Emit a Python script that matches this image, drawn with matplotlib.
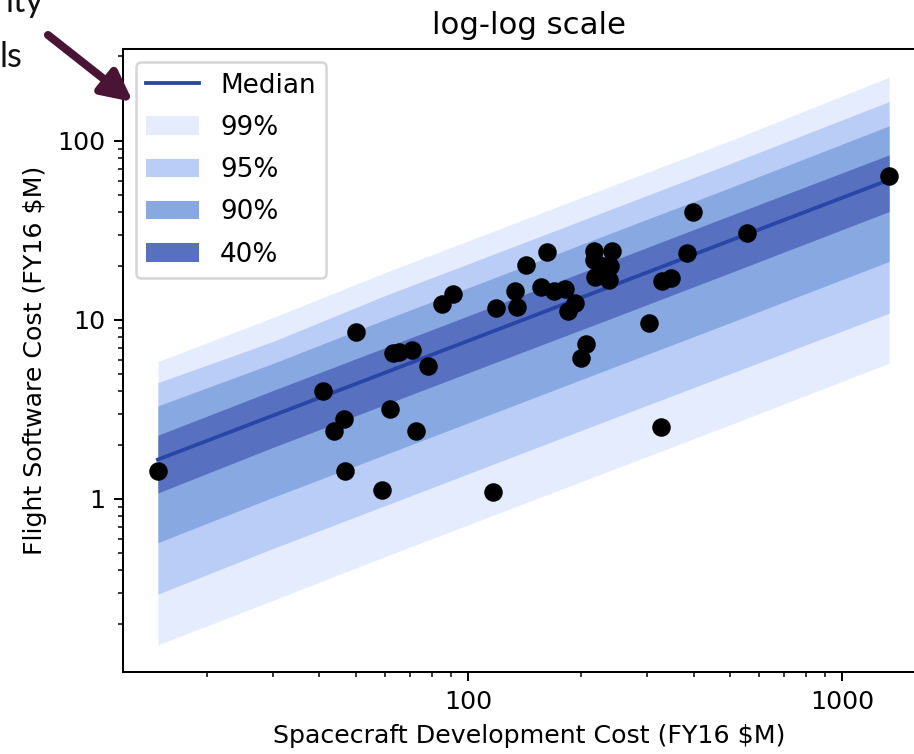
import numpy as np
import matplotlib
matplotlib.use("Agg")
import matplotlib.pyplot as plt
from matplotlib.ticker import FuncFormatter, NullFormatter
from matplotlib.patches import FancyArrowPatch

# data points (spacecraft dev cost vs flight software cost, FY16 $M)
dev_cost = [14.8, 41.0, 43.7, 46.4, 46.8, 50.0, 58.7, 61.7, 62.9, 65.3,
            70.6, 72.4, 77.9, 85.2, 91.0, 116.7, 118.8, 133.6, 134.9, 142.4,
            156.8, 162.0, 169.8, 181.7, 184.4, 193.2, 200.5, 206.0, 217.3, 217.3,
            218.2, 229.6, 239.3, 237.8, 241.7, 304.8, 326.9, 329.0, 348.3, 385.1,
            399.6, 556.3, 1333.0]
fsw_cost = [1.43, 4.00, 2.41, 2.79, 1.43, 8.57, 1.12, 3.20, 6.52, 6.65,
            6.80, 2.39, 5.53, 12.3, 14.0, 1.10, 11.6, 14.6, 11.8, 20.3,
            15.2, 24.1, 14.6, 14.8, 11.2, 12.4, 6.14, 7.32, 24.3, 21.6,
            17.3, 19.9, 19.9, 16.7, 24.3, 9.66, 2.52, 16.6, 17.2, 23.6,
            40.3, 30.6, 63.8]

# prediction bands
band_x = [14.8, 30, 60, 120, 250, 500, 1333]
median = [1.66, 2.92, 5.08, 8.85, 15.9, 27.7, 60.6]
hi_99 = [5.85, 10.3, 18.4, 32.0, 57.6, 100.1, 227.0]
lo_99 = [0.153, 0.271, 0.477, 0.830, 1.49, 2.59, 5.73]
hi_95 = [4.46, 7.57, 13.7, 23.8, 42.8, 74.5, 165.8]
lo_95 = [0.294, 0.528, 0.919, 1.60, 2.88, 5.00, 10.9]
hi_90 = [3.31, 5.71, 10.05, 17.5, 31.5, 54.7, 121.3]
lo_90 = [0.570, 1.02, 1.77, 3.08, 5.54, 9.63, 21.2]
hi_40 = [2.27, 4.03, 7.01, 12.2, 21.9, 38.2, 83.5]
lo_40 = [1.08, 1.94, 3.37, 5.86, 10.5, 18.3, 40.3]

fig = plt.figure(figsize=(914 / 182, 754 / 182), dpi=182)
ax = fig.add_axes([0.1342, 0.1088, 0.8897, 0.8263])

ax.fill_between(band_x, lo_99, hi_99, color="#e4ecfd", lw=0, label="99%")
ax.fill_between(band_x, lo_95, hi_95, color="#bacdf7", lw=0, label="95%")
ax.fill_between(band_x, lo_90, hi_90, color="#87a8e0", lw=0, label="90%")
ax.fill_between(band_x, lo_40, hi_40, color="#5870c0", lw=0, label="40%")
ax.plot(band_x, median, color="#2846a5", lw=1.5, label="Median")
ax.scatter(dev_cost, fsw_cost, s=40, color="black", zorder=5)

ax.set_xscale("log")
ax.set_yscale("log")
ax.set_xlim(11.91, 1778)
ax.set_ylim(0.108, 326.5)
fmt = FuncFormatter(lambda v, _: f"{v:g}")
ax.xaxis.set_major_formatter(fmt)
ax.yaxis.set_major_formatter(fmt)
ax.xaxis.set_minor_formatter(NullFormatter())
ax.yaxis.set_minor_formatter(NullFormatter())

ax.set_title("log-log scale", fontsize=12.2)
ax.set_xlabel("Spacecraft Development Cost (FY16 $M)")
ax.set_ylabel("Flight Software Cost (FY16 $M)")

h, l = ax.get_legend_handles_labels()
order = [4, 0, 1, 2, 3]
ax.legend([h[i] for i in order], [l[i] for i in order], loc="upper left",
          fontsize=10.4, labelspacing=0.62)

# slide leftovers (cropped text + arrow)
fig.text(43 / 914, 1 - 12 / 754, "ity", ha="right", va="baseline",
         fontsize=13.5, family="Lato", color="#111111")
fig.text(22 / 914, 1 - 67 / 754, "ls", ha="right", va="baseline",
         fontsize=13.5, family="Lato", color="#111111")
arr = FancyArrowPatch((0.0525, 0.9536), (0.1455, 0.8647), transform=fig.transFigure,
                      arrowstyle="-|>,head_length=0.4,head_width=0.2",
                      mutation_scale=25, lw=3.2, color="#4a1535",
                      shrinkA=0, shrinkB=0)
fig.add_artist(arr)

fig.savefig("out.png", dpi=182)
